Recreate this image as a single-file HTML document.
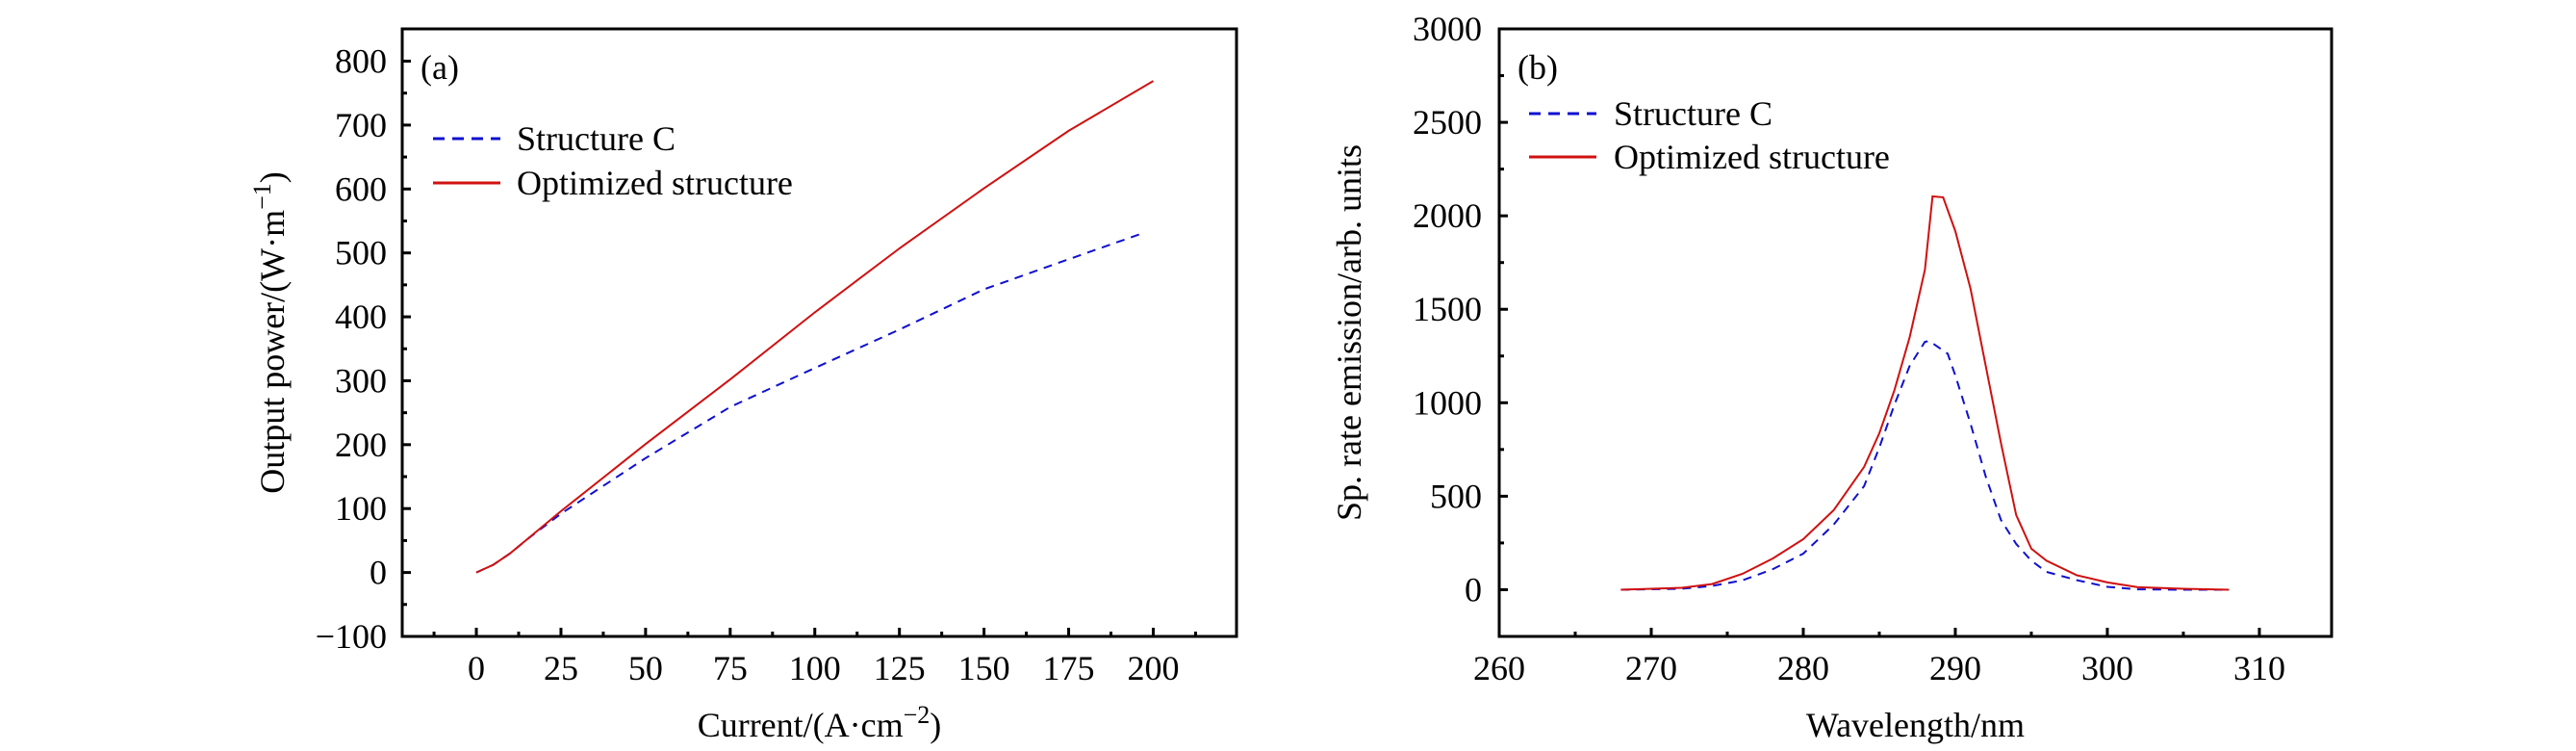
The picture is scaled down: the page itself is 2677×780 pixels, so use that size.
<!DOCTYPE html>
<html><head><meta charset="utf-8"><style>
html,body{margin:0;padding:0;background:#fff}
svg{display:block;font-family:"Liberation Serif",serif}
</style></head><body>
<svg id="fig" width="2677" height="780" viewBox="0 0 2677 780" xmlns="http://www.w3.org/2000/svg">
<rect width="2677" height="780" fill="#fff"/>
<g id="pa"></g>
<g id="pb"></g>
</svg>
<script>
const aX = [0,5,10,15,20,25,50,75,100,125,150,175,200];
const aOpt = [0,12,30,52,74,96,201,302,407,507,601,691,769];
const aXC = [0,5,10,15,20,25,50,75,100,125,150,175,197];
const aC = [0,12,30,52,72,92,179,259,320,380,443,490,531];
const aXTicks = [0,25,50,75,100,125,150,175,200];
const aYTicks = [-100,0,100,200,300,400,500,600,700,800];
const bXOpt = [268,270,272,274,276,278,280,282,284,285,286,287,288,288.5,289.2,290,291,292,293,294,295,296,298,300,302,305,308];
const bOpt = [0,5,10,30,85,167,270,425,657,837,1069,1352,1712,2104,2099,1918,1610,1197,785,400,219,155,77,39,13,5,0];
const bXC = [268,272,274,276,278,280,282,284,285,286,287,288,288.3,289.5,290,291,292,293,294,295,296,298,300,302,305,308];
const bC = [0,5,20,50,110,193,348,554,760,991,1198,1326,1330,1262,1146,888,605,373,245,155,95,51,15,2,0,0];
const bXTicks = [260,270,280,290,300,310];
const bYTicks = [0,500,1000,1500,2000,2500,3000];
const NS="http://www.w3.org/2000/svg";
function mk(p,t,a){const e=document.createElementNS(NS,t);for(const k in a)e.setAttribute(k,a[k]);p.appendChild(e);return e;}

function panel(g,cfg){
  const {L,R,T,B,x0,x1,y0,y1}=cfg;
  const sx=v=>L+(v-x0)/(x1-x0)*(R-L);
  const sy=v=>B-(v-y0)/(y1-y0)*(B-T);
  const fr=mk(g,'rect',{x:L,y:T,width:R-L,height:B-T,fill:'none',stroke:'#000','stroke-width':3});
  
  
  cfg.xt.forEach(v=>{
    const t=mk(g,'line',{x1:sx(v),x2:sx(v),y1:B,y2:B-9,stroke:'#000','stroke-width':3});
    
    
    const m=v+cfg.xs/2;
    if(sx(m)<R-2){const n=mk(g,'line',{x1:sx(m),x2:sx(m),y1:B,y2:B-5,stroke:'#000','stroke-width':3});
    
    }
    const tx=mk(g,'text',{x:sx(v),y:B+45,'text-anchor':'middle','font-size':36});
    tx.textContent=v;
    
    
  });
  const m0=cfg.xt[0]-cfg.xs/2; if(sx(m0)>L+2){const n=mk(g,'line',{x1:sx(m0),x2:sx(m0),y1:B,y2:B-5,stroke:'#000','stroke-width':3});
    
    }
  cfg.yt.forEach(v=>{
    const t=mk(g,'line',{x1:L,x2:L+9,y1:sy(v),y2:sy(v),stroke:'#000','stroke-width':3});
    
    
    const m=v+cfg.ys/2;
    if(sy(m)>T+2){const n=mk(g,'line',{x1:L,x2:L+5,y1:sy(m),y2:sy(m),stroke:'#000','stroke-width':3});
    
    }
    const tx=mk(g,'text',{x:cfg.ylx,y:sy(v)+12,'text-anchor':'end','font-size':36});
    tx.textContent=v<0?'\u2212'+(-v):v;
    
    
  });
  const ser=(xs,ys,col,dash,name)=>{
    const p=mk(g,'path',{d:xs.map((x,i)=>(i?'L':'M')+sx(x).toFixed(1)+','+sy(ys[i]).toFixed(1)).join(''),fill:'none',stroke:col,'stroke-width':cfg.lw||2,'stroke-dasharray':dash});
    
    
  };
  ser(cfg.cx,cfg.cy,'#1010d0','9,7','series-structure-c');
  ser(cfg.ox,cfg.oy,'#d01010','none','series-optimized');
  const lab=mk(g,'text',{x:cfg.lab[0],y:cfg.lab[1],'font-size':36});lab.textContent=cfg.lab[2];
  
  
  const lg=[['Structure C','#1010d0','12,8',cfg.lg[2]],['Optimized structure','#d01010','none',cfg.lg[3]]];
  lg.forEach(([t,c,d,y])=>{
    const l=mk(g,'line',{x1:cfg.lg[0],x2:cfg.lg[0]+70,y1:y,y2:y,stroke:c,'stroke-width':3,'stroke-dasharray':d});
    
    
    const tx=mk(g,'text',{x:cfg.lg[1],y:y+12,'font-size':36});tx.textContent=t;
    
    
  });
  const xt=mk(g,'text',{x:(L+R)/2,y:765,'text-anchor':'middle','font-size':36});
  xt.innerHTML=cfg.xtitle;
  
  
  const yt=mk(g,'text',{x:0,y:0,'text-anchor':'middle','font-size':36,transform:`translate(${cfg.ytx},${(T+B)/2}) rotate(-90)`});
  yt.innerHTML=cfg.ytitle;
  
  
}
panel(document.getElementById('pa'),{L:418,R:1285,T:30,B:661,x0:-21.9,x1:224.6,y0:-100,y1:850.5,
  xt:aXTicks,xs:25,yt:aYTicks,ys:100,ylx:402,cx:aXC,cy:aC,ox:aX,oy:aOpt,
  lab:[437,82,'(a)'],lg:[450,537,144,190],ytx:295,
  xtitle:'Current/(A·cm<tspan dy="-14" font-size="26">\u22122</tspan><tspan dy="14">)</tspan>',
  ytitle:'Output power/(W·m<tspan dy="-14" font-size="26">\u22121</tspan><tspan dy="14">)</tspan>'});
panel(document.getElementById('pb'),{L:1558,R:2423,T:30,B:661,x0:260,x1:314.75,y0:-250,y1:3000,
  xt:bXTicks,xs:10,yt:bYTicks,ys:500,ylx:1540,cx:bXC,cy:bC,ox:bXOpt,oy:bOpt,
  lab:[1577,82,'(b)'],lg:[1589,1677,118,163],ytx:1414,
  xtitle:'Wavelength/nm',ytitle:'Sp. rate emission/arb. units'});
</script>
</body></html>
